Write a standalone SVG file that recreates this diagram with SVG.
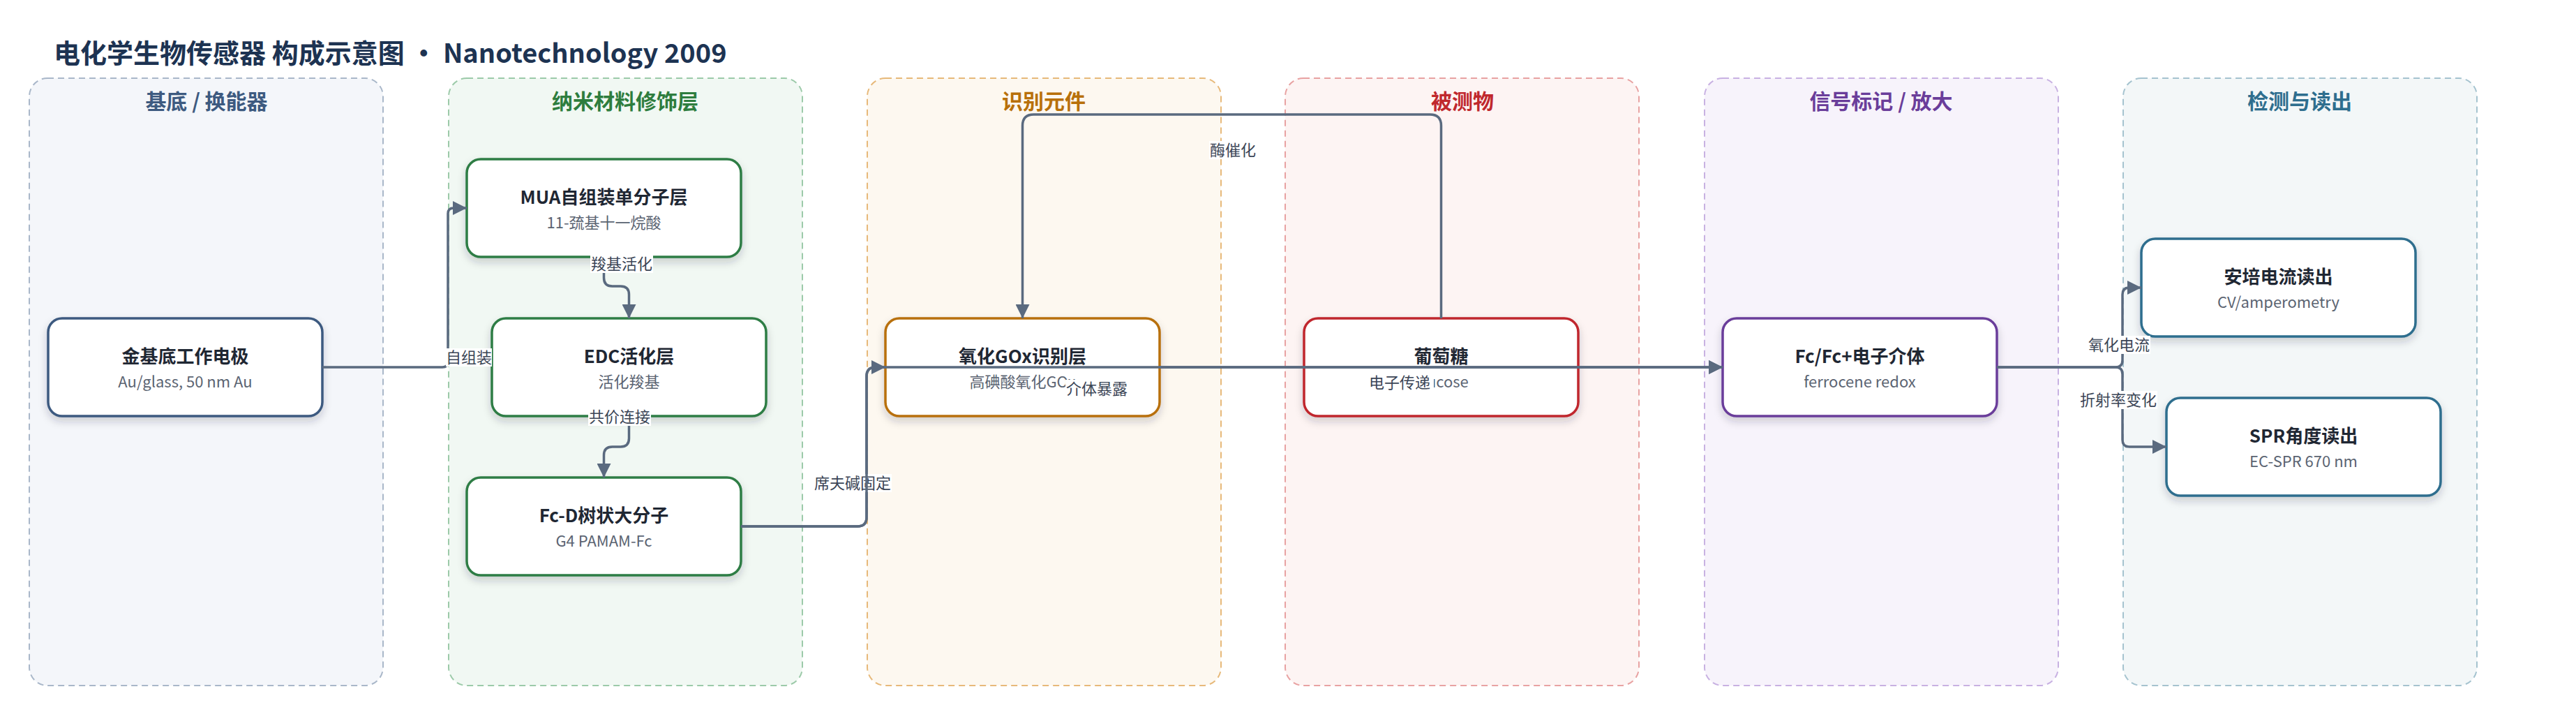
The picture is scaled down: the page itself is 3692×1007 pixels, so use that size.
<svg xmlns="http://www.w3.org/2000/svg" width="3692" height="1007" viewBox="0 0 3692 1007">
<defs>
<style>
text{font-family:"Noto Sans CJK SC","Noto Sans",sans-serif;}
.title{font-size:38px;font-weight:700;fill:#1d3352;}
.ct{font-size:30px;font-weight:700;text-anchor:middle;}
.cl{stroke-width:2;stroke-dasharray:9 6;}
.node rect{fill:#ffffff;stroke-width:3.5;filter:url(#sh);}
.nt{font-size:26px;font-weight:700;fill:#1f2733;text-anchor:middle;}
.ns{font-size:22px;fill:#5b6472;text-anchor:middle;}
.e{fill:none;stroke:#5a6a7f;stroke-width:3.5;marker-end:url(#ar);}
.lb{fill:#ffffff;}
.lt{font-size:22px;fill:#3b4556;text-anchor:middle;}
</style>
<filter id="sh" x="-10%" y="-20%" width="120%" height="150%">
<feDropShadow dx="0" dy="6" stdDeviation="6" flood-color="#1f2937" flood-opacity="0.2"/>
</filter>
<marker id="ar" viewBox="0 0 20 20" refX="20" refY="10" markerWidth="20" markerHeight="20" markerUnits="userSpaceOnUse" orient="auto">
<path d="M0,0 L20,10 L0,20 Z" fill="#5a6a7f"/>
</marker>
</defs>
<rect width="3692" height="1007" fill="#ffffff"/>
<text class="title" x="77" y="90">电化学生物传感器 构成示意图 · Nanotechnology 2009</text>

<g id="clusters">
<g id="c-substrate"><rect class="cl" x="42" y="112" width="507" height="870" rx="26" fill="#f4f6fa" stroke="#a9b7c9"/><text class="ct" x="296" y="156" fill="#3d5a80">基底 / 换能器</text></g>
<g id="c-nano"><rect class="cl" x="643" y="112" width="507" height="870" rx="26" fill="#f1f8f3" stroke="#9ccaa9"/><text class="ct" x="896" y="156" fill="#2e7d3e">纳米材料修饰层</text></g>
<g id="c-recog"><rect class="cl" x="1243" y="112" width="507" height="870" rx="26" fill="#fdf8f0" stroke="#e7b97a"/><text class="ct" x="1496" y="156" fill="#b8700a">识别元件</text></g>
<g id="c-analyte"><rect class="cl" x="1842" y="112" width="507" height="870" rx="26" fill="#fdf4f3" stroke="#e8a2a2"/><text class="ct" x="2096" y="156" fill="#c0282d">被测物</text></g>
<g id="c-signal"><rect class="cl" x="2443" y="112" width="507" height="870" rx="26" fill="#f7f3fb" stroke="#c8b1e2"/><text class="ct" x="2696" y="156" fill="#6a3d9a">信号标记 / 放大</text></g>
<g id="c-readout"><rect class="cl" x="3043" y="112" width="507" height="870" rx="26" fill="#f3f7f8" stroke="#a5c3cf"/><text class="ct" x="3296" y="156" fill="#2e6e8e">检测与读出</text></g>
</g>

<g id="n-au" class="node"><rect x="69" y="456" width="393" height="140" rx="20" stroke="#3d5a80"/><text class="nt" x="265.5" y="520">金基底工作电极</text><text class="ns" x="265.5" y="555">Au/glass, 50 nm Au</text></g>
<g id="n-mua" class="node"><rect x="669" y="228" width="393" height="140" rx="20" stroke="#2e7d45"/><text class="nt" x="865.5" y="292">MUA自组装单分子层</text><text class="ns" x="865.5" y="327">11-巯基十一烷酸</text></g>
<g id="n-edc" class="node"><rect x="705" y="456" width="393" height="140" rx="20" stroke="#2e7d45"/><text class="nt" x="901.5" y="520">EDC活化层</text><text class="ns" x="901.5" y="555">活化羧基</text></g>
<g id="n-fcd" class="node"><rect x="669" y="684" width="393" height="140" rx="20" stroke="#2e7d45"/><text class="nt" x="865.5" y="748">Fc-D树状大分子</text><text class="ns" x="865.5" y="783">G4 PAMAM-Fc</text></g>
<g id="n-gox" class="node"><rect x="1269" y="456" width="393" height="140" rx="20" stroke="#b8700a"/><text class="nt" x="1465.5" y="520">氧化GOx识别层</text><text class="ns" x="1465.5" y="555">高碘酸氧化GOx</text></g>
<g id="n-glu" class="node"><rect x="1869" y="456" width="393" height="140" rx="20" stroke="#c0282d"/><text class="nt" x="2065.5" y="520">葡萄糖</text><text class="ns" x="2065.5" y="555">glucose</text></g>
<g id="n-fc" class="node"><rect x="2469" y="456" width="393" height="140" rx="20" stroke="#6a3d9a"/><text class="nt" x="2665.5" y="520">Fc/Fc+电子介体</text><text class="ns" x="2665.5" y="555">ferrocene redox</text></g>
<g id="n-amp" class="node"><rect x="3069" y="342" width="393" height="140" rx="20" stroke="#2e6e8e"/><text class="nt" x="3265.5" y="406">安培电流读出</text><text class="ns" x="3265.5" y="441">CV/amperometry</text></g>
<g id="n-spr" class="node"><rect x="3105" y="570" width="393" height="140" rx="20" stroke="#2e6e8e"/><text class="nt" x="3301.5" y="634">SPR角度读出</text><text class="ns" x="3301.5" y="669">EC-SPR 670 nm</text></g>

<g id="connectors">
<path class="e" d="M462,526 H634 Q642,526 642,518 V306 Q642,298 650,298 H669"/>
<rect class="lb" x="639" y="499" width="66" height="26"/><text class="lt" x="672" y="520">自组装</text>

<path class="e" d="M865.5,368 V398 Q865.5,410 877.5,410 H889.5 Q901.5,410 901.5,422 V456"/>
<rect class="lb" x="846" y="365" width="90" height="26"/><text class="lt" x="891" y="386">羧基活化</text>

<path class="e" d="M901.5,596 V628 Q901.5,640 889.5,640 H877.5 Q865.5,640 865.5,652 V684"/>
<rect class="lb" x="843" y="584" width="90" height="26"/><text class="lt" x="888" y="605">共价连接</text>

<path class="e" d="M1062,754 H1229 Q1242,754 1242,741 V539 Q1242,526 1255,526 H1269"/>
<rect class="lb" x="1166" y="679" width="112" height="26"/><text class="lt" x="1222" y="700">席夫碱固定</text>

<path class="e" d="M2065.5,456 V180 Q2065.5,164 2049.5,164 H1481.5 Q1465.5,164 1465.5,180 V456"/>
<rect class="lb" x="1733" y="202" width="68" height="26"/><text class="lt" x="1767" y="223">酶催化</text>

<path class="e" d="M1062,754 H1229 Q1242,754 1242,741 V539 Q1242,526 1255,526 H2469"/>
<rect class="lb" x="1527" y="544" width="90" height="26"/><text class="lt" x="1572" y="565">介体暴露</text>

<path class="e" d="M1662,526 H2469"/>
<rect class="lb" x="1960" y="535" width="95" height="26"/><text class="lt" x="2006" y="556">电子传递</text>

<path class="e" d="M2862,526 H3032 Q3042,526 3042,516 V422 Q3042,412 3052,412 H3069"/>
<rect class="lb" x="2992" y="481" width="90" height="26"/><text class="lt" x="3037" y="502">氧化电流</text>

<path class="e" d="M2862,526 H3032 Q3042,526 3042,536 V630 Q3042,640 3052,640 H3105"/>
<rect class="lb" x="2980" y="560" width="112" height="26"/><text class="lt" x="3036" y="581">折射率变化</text>
</g>
</svg>
